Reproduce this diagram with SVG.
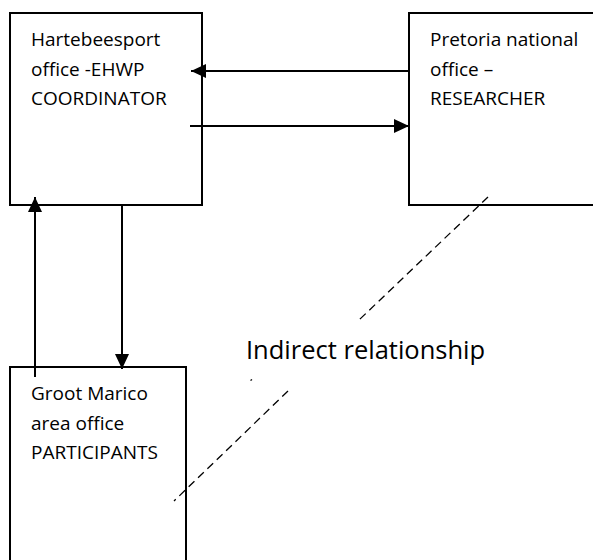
<svg xmlns="http://www.w3.org/2000/svg" width="593" height="560" viewBox="0 0 593 560">
<defs>
<style>
.box{fill:#fff;stroke:#000;stroke-width:2}
.t{font-family:"Open Sans","Liberation Sans",sans-serif;font-size:19px;fill:#000}
.lbl{font-family:"Open Sans","Liberation Sans",sans-serif;font-size:25.5px;fill:#000}
.c{stroke:#000;stroke-width:2;fill:none}
.d{stroke:#000;stroke-width:1.3;fill:none;stroke-dasharray:8 5}
</style>
<marker id="ah" viewBox="0 0 15 14" refX="15" refY="7" markerWidth="15" markerHeight="14" markerUnits="userSpaceOnUse" orient="auto">
<path d="M0,0 L15,7 L0,14 Z" fill="#000"/>
</marker>
</defs>
<rect width="593" height="560" fill="#fff"/>
<g id="node-hartebeespoort">
<rect class="box" x="10" y="13" width="192" height="192"/>
<text class="t" x="31" y="46">Hartebeesport</text>
<text class="t" x="31" y="76">office -EHWP</text>
<text class="t" x="31" y="105">COORDINATOR</text>
</g>
<g id="node-pretoria">
<rect class="box" x="409" y="13" width="200" height="192"/>
<text class="t" x="430" y="46">Pretoria national</text>
<text class="t" x="430" y="76">office –</text>
<text class="t" x="430" y="105">RESEARCHER</text>
</g>
<g id="node-groot-marico">
<rect class="box" x="10" y="367" width="176" height="210"/>
<text class="t" x="31" y="400">Groot Marico</text>
<text class="t" x="31" y="430">area office</text>
<text class="t" x="31" y="459">PARTICIPANTS</text>
</g>
<g id="connectors">
<line class="c" x1="409" y1="71" x2="191" y2="71" marker-end="url(#ah)"/>
<line class="c" x1="190" y1="126" x2="409" y2="126" marker-end="url(#ah)"/>
<line class="c" x1="35" y1="377" x2="35" y2="197" marker-end="url(#ah)"/>
<line class="c" x1="122" y1="205" x2="122" y2="369" marker-end="url(#ah)"/>
<line class="d" x1="488" y1="197" x2="359" y2="320"/>
<line class="d" x1="288" y1="391" x2="174" y2="501"/>
<line stroke="#000" stroke-width="1.3" x1="252" y1="379.5" x2="250.5" y2="380.5"/>
</g>
<text class="lbl" x="246" y="359">Indirect relationship</text>
</svg>
